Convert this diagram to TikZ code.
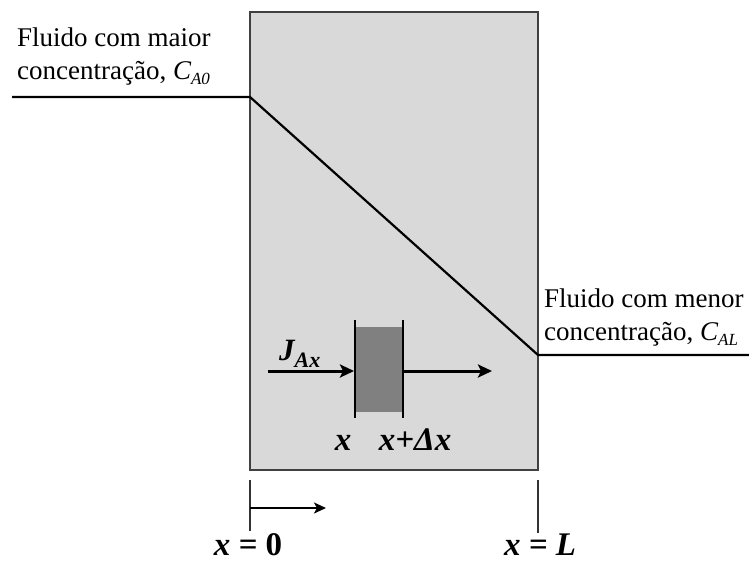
\documentclass[tikz,border=0pt]{standalone}
\usepackage{fontspec}
\setmainfont{Liberation Serif}
\usetikzlibrary{arrows.meta}
\definecolor{slab}{HTML}{D9D9D9}
\definecolor{elem}{HTML}{808080}
\tikzset{
  lbl/.style={font=\fontsize{27}{33}\selectfont, align=left, inner sep=0pt},
  axlbl/.style={font=\fontsize{33}{35}\selectfont\bfseries\itshape, inner sep=0pt},
  conc/.style={line width=2.2pt, black},
  arr/.style={line width=3pt, -{Stealth[length=14pt,width=13pt,inset=3pt]}},
  tick/.style={line width=1.5pt, black!80}
}
\begin{document}
\begin{tikzpicture}[x=1pt,y=-1pt]
\useasboundingbox (0,0) rectangle (749,563);
% slab
\node[draw=black!75, fill=slab, line width=2pt, inner sep=0pt, minimum width=288pt, minimum height=458pt] (slabbox) at (394,241) {};
% concentration profile
\coordinate (c0) at (12,97);
\coordinate (c1) at (250,97);
\coordinate (c2) at (538,355);
\coordinate (c3) at (749,355);
\draw[conc] (c0) -- (c1) -- (c2) -- (c3);
% labels
\node[lbl, anchor=north west] (hi) at (17,28) {Fluido com maior\\concentração, {\itshape C\raisebox{-0.4ex}{\fontsize{17}{17}\selectfont A0}}};
\node[lbl, anchor=north west] (lo) at (544,289) {Fluido com menor\\concentração, {\itshape C\raisebox{-0.4ex}{\fontsize{17}{17}\selectfont AL}}};
% element
\path[fill=elem] (355,327) rectangle (403,412);
\coordinate (l1t) at (355,320); \coordinate (l1b) at (355,418);
\coordinate (l2t) at (403,320); \coordinate (l2b) at (403,418);
\draw[line width=2.4pt] (l1t) -- (l1b);
\draw[line width=1.8pt] (l2t) -- (l2b);
\coordinate (inA) at (268,371);
\coordinate (inB) at (354,371);
\coordinate (outA) at (404,371);
\coordinate (outB) at (492,371);
\draw[arr] (inA) -- (inB);
\draw[arr] (outA) -- (outB);
\node[axlbl, font=\fontsize{31}{32}\selectfont\bfseries\itshape, anchor=base west] (J) at (279,360) {J\raisebox{-0.5ex}{\fontsize{22}{22}\selectfont Ax}};
\node[axlbl, font=\fontsize{33}{34}\selectfont\bfseries\itshape, anchor=base] (xl) at (343,450) {x};
\node[axlbl, font=\fontsize{33}{34}\selectfont\bfseries\itshape, anchor=base] (xdx) at (415,450) {x+Δx};
% bottom axis
\coordinate (t0a) at (250,480); \coordinate (t0b) at (250,531);
\coordinate (tLa) at (538,480); \coordinate (tLb) at (538,533);
\draw[tick] (t0a) -- (t0b);
\draw[tick] (tLa) -- (tLb);
\coordinate (ax0) at (250,508);
\coordinate (ax1) at (326,508);
\draw[line width=1.8pt, -{Stealth[length=12pt,width=11pt,inset=3pt]}] (ax0) -- (ax1);
\node[axlbl, anchor=base] (x0) at (248,555) {x = {\upshape 0}};
\node[axlbl, anchor=base] (xL) at (540,555) {x = L};
\end{tikzpicture}
\end{document}
